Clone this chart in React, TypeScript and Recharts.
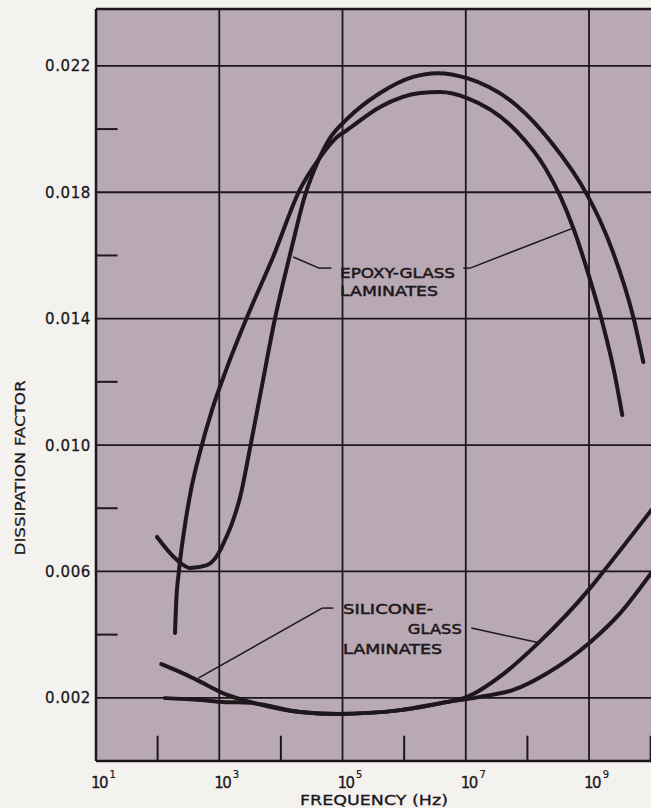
import React from "react";
import {
  LineChart,
  Line,
  XAxis,
  YAxis,
  CartesianGrid,
  ReferenceLine,
  ReferenceDot,
} from "recharts";

// frequency is stored as log10(Hz); dissipation factor as plain value
const epoxyUpperLogF = [1.99, 2.315, 2.526, 2.802, 2.981, 3.078, 3.208, 3.338, 3.5, 3.695, 3.906, 4.166, 4.393, 4.604, 4.799, 5.075, 5.61, 6.146, 6.536, 7.023, 7.834, 8.37, 8.971, 9.182, 9.393, 9.718, 9.88];
const epoxyUpperDF = [0.00709, 0.00636, 0.00611, 0.0062, 0.00655, 0.00693, 0.00753, 0.00835, 0.00991, 0.0119, 0.01402, 0.01617, 0.01791, 0.01899, 0.01972, 0.02032, 0.02114, 0.02165, 0.02177, 0.02161, 0.02073, 0.01962, 0.01791, 0.01709, 0.01608, 0.01405, 0.01263];

const epoxyLowerLogF = [2.282, 2.299, 2.347, 2.429, 2.542, 2.688, 2.883, 3.11, 3.451, 3.873, 4.312, 4.604, 4.912, 5.075, 5.61, 6.26, 6.584, 7.023, 7.834, 8.289, 8.532, 8.744, 9.019, 9.231, 9.409, 9.539];
const epoxyLowerDF = [0.00405, 0.00494, 0.00604, 0.00728, 0.00858, 0.00978, 0.01111, 0.01237, 0.01405, 0.01595, 0.0181, 0.01902, 0.01975, 0.01997, 0.0207, 0.02114, 0.02117, 0.02098, 0.01991, 0.01877, 0.01788, 0.01687, 0.01522, 0.01377, 0.01231, 0.01095];

const siliconeALogF = [2.06, 2.36, 2.64, 3.13, 3.5, 4.31, 4.91, 5.94, 6.7, 7.02, 7.607, 8.175, 9.003, 9.214, 10.01];
const siliconeADF = [0.00307, 0.00282, 0.00256, 0.00209, 0.00187, 0.00155, 0.00149, 0.00161, 0.00187, 0.00203, 0.00275, 0.00373, 0.00544, 0.00595, 0.00794];

const siliconeBLogF = [2.12, 2.69, 3.06, 3.5, 4.31, 4.91, 5.94, 6.7, 7.02, 7.23, 7.77, 8.32, 9.0, 9.506, 10.01];
const siliconeBDF = [0.00199, 0.00193, 0.00187, 0.00184, 0.00155, 0.00149, 0.00161, 0.00187, 0.00196, 0.00203, 0.00225, 0.00278, 0.00373, 0.00468, 0.00595];

const yTicks = [0.002, 0.006, 0.01, 0.014, 0.018, 0.022];
const yMinorTicks = [0.004, 0.008, 0.012, 0.016, 0.02];
const xTicks = [1, 3, 5, 7, 9];
const xMinorTicks = [2, 4, 6, 8, 10];

// leader lines (log10 f, DF) from the labels to the curves
const epoxyLeaderLeft = [[4.82, 0.0156], [4.62, 0.0156], [4.2, 0.01595]];
const epoxyLeaderRight = [[6.96, 0.0156], [7.07, 0.0156], [8.72, 0.01685]];
const siliconeLeaderLeft = [[4.85, 0.00484], [4.67, 0.00484], [2.66, 0.00262]];
const siliconeLeaderRight = [[7.09, 0.00421], [8.17, 0.00375]];

// label text anchored at its left baseline, with its drawn width
const notes = [
  { text: "EPOXY-GLASS", x: 4.96, y: 0.0153, w: 115 },
  { text: "LAMINATES", x: 4.96, y: 0.01472, w: 98 },
  { text: "SILICONE-", x: 5.01, y: 0.00465, w: 90 },
  { text: "GLASS", x: 6.06, y: 0.00402, w: 54 },
  { text: "LAMINATES", x: 5.01, y: 0.00339, w: 99 },
];

const INK = "#1e171b";
const PAPER = "#b8a9b4";
const FONT = "'DejaVu Sans', Verdana, sans-serif";

const toPoints = (xs: number[], ys: number[]) => xs.map((x, i) => ({ x, y: ys[i] }));

const series = [
  { name: "epoxyUpper", data: toPoints(epoxyUpperLogF, epoxyUpperDF) },
  { name: "epoxyLower", data: toPoints(epoxyLowerLogF, epoxyLowerDF) },
  { name: "siliconeA", data: toPoints(siliconeALogF, siliconeADF) },
  { name: "siliconeB", data: toPoints(siliconeBLogF, siliconeBDF) },
];

const leaders = [epoxyLeaderLeft, epoxyLeaderRight, siliconeLeaderLeft, siliconeLeaderRight];

// "10" with the exponent raised, in one text element
const XTick = ({ x, y, payload }: any) => (
  <text x={x - 5} y={y + 27} fill={INK} stroke={INK} strokeWidth={0.3} fontSize={15} fontFamily={FONT} letterSpacing={-1.5}>
    10
    <tspan dx={2.5} dy={-10} fontSize={10} strokeWidth={0.2} letterSpacing={0}>
      {payload.value}
    </tspan>
  </text>
);

const YTick = ({ x, y, payload }: any) => (
  <text x={x - 5} y={y + 5.5} textAnchor="end" fill={INK} stroke={INK} strokeWidth={0.3} fontSize={15} fontFamily={FONT} letterSpacing={0.6}>
    {Number(payload.value).toFixed(3)}
  </text>
);

export default function App() {
  return (
    <div style={{ width: 651, height: 808, overflow: "hidden", background: "#f3f2ef" }}>
      <style>{"body{margin:0;background:#f3f2ef}"}</style>
      <LineChart width={663} height={808} margin={{ top: 9, right: 0, bottom: 0, left: 0 }}>
        <CartesianGrid stroke={INK} strokeWidth={1.8} fill={PAPER} fillOpacity={1} />
        <XAxis
          type="number"
          dataKey="x"
          domain={[1, 10.2]}
          ticks={xTicks}
          allowDataOverflow
          height={47}
          tickSize={0}
          tickMargin={0}
          tickLine={false}
          tick={<XTick />}
          axisLine={{ stroke: INK, strokeWidth: 2.5 }}
          label={{
            content: (p: any) => {
              const vb = p.viewBox ?? { x: 96, y: 761 };
              return (
                <text x={vb.x + 204} y={vb.y + 44} fill={INK} stroke={INK} strokeWidth={0.3} fontSize={14} fontFamily={FONT} textLength={148} lengthAdjust="spacingAndGlyphs">
                  FREQUENCY (Hz)
                </text>
              );
            },
          }}
        />
        <YAxis
          type="number"
          domain={[0, 0.0238]}
          ticks={yTicks}
          allowDataOverflow
          width={96}
          tickSize={0}
          tickMargin={0}
          tickLine={false}
          tick={<YTick />}
          axisLine={{ stroke: INK, strokeWidth: 2.5 }}
          label={{
            content: () => (
              <text
                x={25}
                y={468}
                transform="rotate(-90, 25, 468)"
                textAnchor="middle"
                fill={INK}
                stroke={INK}
                strokeWidth={0.3}
                fontSize={14}
                fontFamily={FONT}
                textLength={175}
                lengthAdjust="spacingAndGlyphs"
              >
                DISSIPATION FACTOR
              </text>
            ),
          }}
        />
        <ReferenceLine y={0.0238} stroke={INK} strokeWidth={2.5} />
        {yMinorTicks.map((v) => (
          <ReferenceLine key={"ym" + v} segment={[{ x: 1, y: v }, { x: 1.35, y: v }]} stroke={INK} strokeWidth={2} />
        ))}
        {xMinorTicks.map((v) => (
          <ReferenceLine key={"xm" + v} segment={[{ x: v, y: 0 }, { x: v, y: 0.0008 }]} stroke={INK} strokeWidth={2} />
        ))}
        {leaders.flatMap((pts, li) =>
          pts.slice(1).map((p, i) => (
            <ReferenceLine
              key={"ld" + li + "-" + i}
              segment={[{ x: pts[i][0], y: pts[i][1] }, { x: p[0], y: p[1] }]}
              stroke={INK}
              strokeWidth={1.5}
            />
          ))
        )}
        {notes.map((n, i) => (
          <ReferenceDot
            key={"note" + i}
            x={n.x}
            y={n.y}
            r={0}
            shape={(p: any) => (
              <text
                x={p.cx}
                y={p.cy}
                fill={INK}
                stroke={INK}
                strokeWidth={0.5}
                fontSize={14.5}
                fontFamily={FONT}
                textLength={n.w}
                lengthAdjust="spacingAndGlyphs"
              >
                {n.text}
              </text>
            )}
          />
        ))}
        {series.map((s) => (
          <Line
            key={s.name}
            data={s.data}
            dataKey="y"
            type="monotone"
            stroke={INK}
            strokeWidth={4}
            strokeLinecap="round"
            dot={false}
            activeDot={false}
            isAnimationActive={false}
          />
        ))}
      </LineChart>
    </div>
  );
}
